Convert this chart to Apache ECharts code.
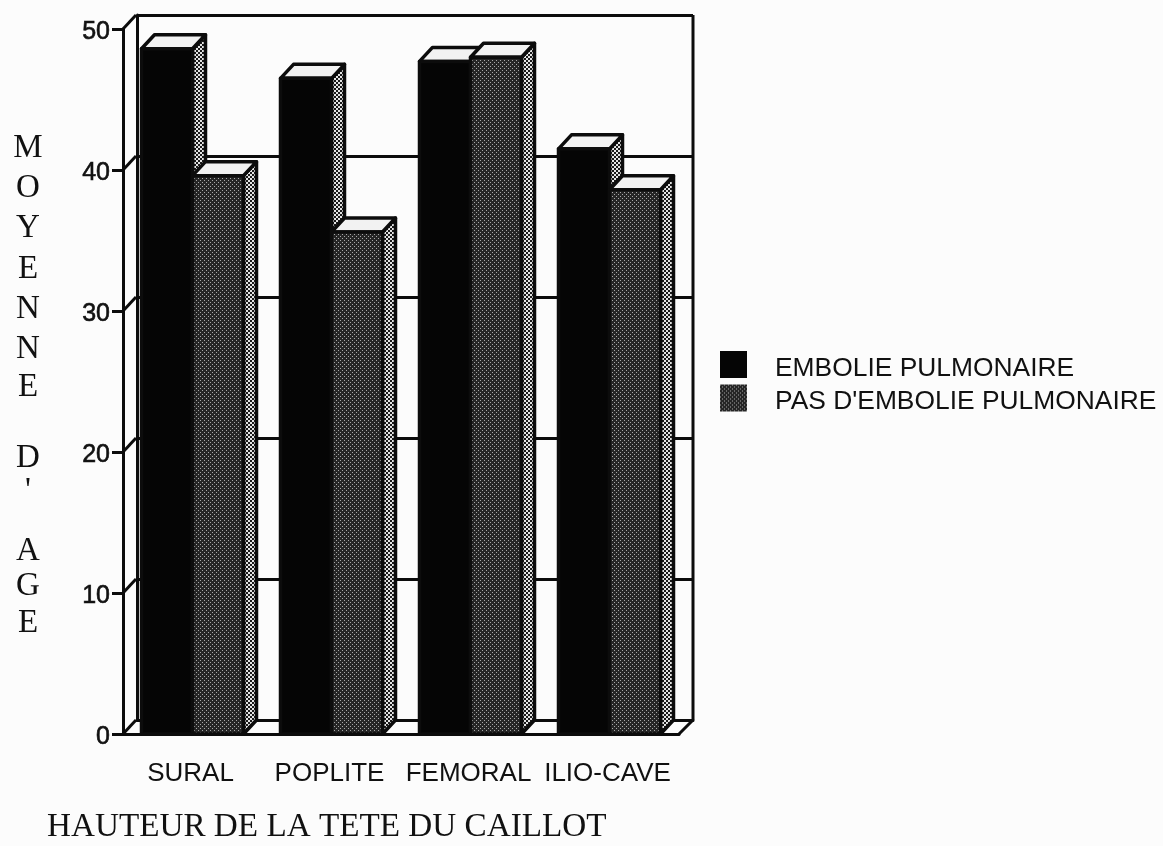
<!DOCTYPE html>
<html>
<head>
<meta charset="utf-8">
<style>html,body{margin:0;padding:0;background:#fcfcfc}#c{width:1163px;height:846px}</style>
<script src="https://cdn.jsdelivr.net/npm/echarts@6/dist/echarts.min.js"></script>
</head>
<body>
<div id="c"></div>
<script>
const categories = ['SURAL', 'POPLITE', 'FEMORAL', 'ILIO-CAVE'];
const seriesNames = ['EMBOLIE PULMONAIRE', "PAS D'EMBOLIE PULMONAIRE"];
const emboliePulmonaire = [48.6, 46.5, 47.7, 41.5];
const pasEmboliePulmonaire = [39.6, 35.6, 48.0, 38.6];
const yTicks = [0, 10, 20, 30, 40, 50];
const yTitle = ['M', 'O', 'Y', 'E', 'N', 'N', 'E', 'D', "'", 'A', 'G', 'E'];
const yTitleRows = [148, 188, 228, 269, 309, 349, 387, 458, 491, 551, 586, 623];
const xTitle = 'HAUTEUR DE LA TETE DU CAILLOT';

const DX = 13, DY = -14, INK = '#0c0c0c', BAR_W = 51;

function dither(bg, dot, size, r) {
  const cv = document.createElement('canvas');
  cv.width = cv.height = size;
  const g = cv.getContext('2d');
  g.fillStyle = bg; g.fillRect(0, 0, size, size);
  g.fillStyle = dot;
  g.fillRect(0, 0, r, r);
  g.fillRect(size / 2, size / 2, r, r);
  return { image: cv, repeat: 'repeat' };
}
const grayFront = dither('#262626', '#a8a8a8', 4, 1);
const sideFill = dither('#1a1a1a', '#e4e4e4', 4, 2);

function bar3d(side) {
  return function (params, api) {
    const cat = api.value(0), val = api.value(1);
    const c0 = api.coord([cat, 0]), c1 = api.coord([cat, val]);
    const x0 = side === 0 ? c0[0] - BAR_W : c0[0];
    const x1 = x0 + BAR_W, yb = c0[1], yt = c1[1];
    const ls = { stroke: INK, lineWidth: 3.5, lineJoin: 'round' };
    return {
      type: 'group', children: [
        { type: 'polygon', shape: { points: [[x1, yb], [x1 + DX, yb + DY], [x1 + DX, yt + DY], [x1, yt]] }, style: Object.assign({ fill: sideFill }, ls) },
        { type: 'polygon', shape: { points: [[x0, yt], [x0 + DX, yt + DY], [x1 + DX, yt + DY], [x1, yt]] }, style: Object.assign({ fill: '#f2f2f2' }, ls) },
        { type: 'rect', shape: { x: x0, y: yt, width: BAR_W, height: yb - yt }, style: Object.assign({ fill: side === 0 ? '#050505' : grayFront }, ls) }
      ]
    };
  };
}

function frame(params, api) {
  const band = api.size([1, 0])[0];
  const left = api.coord([0, 0])[0] - band / 2, right = api.coord([categories.length - 1, 0])[0] + band / 2;
  const v = api.value(0), y = api.coord([0, v])[1];
  const ls = { stroke: INK, lineWidth: 3 };
  const kids = [{ type: 'line', shape: { x1: left, y1: y, x2: left + DX, y2: y + DY }, style: ls }];
  if (v === 0) {
    const top = api.coord([0, yTicks[yTicks.length - 1]])[1];
    kids.push({ type: 'line', shape: { x1: right, y1: y, x2: right + DX + 1, y2: y + DY }, style: ls });
    kids.push({ type: 'line', shape: { x1: right + DX + 1, y1: y + DY, x2: right + DX + 1, y2: top + DY }, style: ls });
  }
  return { type: 'group', children: kids };
}

const font = { fontFamily: 'Liberation Sans', fontSize: 26, color: '#111' };
const yFont = { fontFamily: 'Liberation Sans', fontSize: 25, color: '#111', textBorderColor: '#111', textBorderWidth: 0.6 };

const chart = echarts.init(document.getElementById('c'), null, { renderer: 'canvas' });
chart.setOption({
  animation: false,
  backgroundColor: '#fcfcfc',
  grid: [
    { left: 123, top: 29, width: 556, height: 705 },
    { left: 137, top: 15, width: 556, height: 705 }
  ],
  title: {
    text: xTitle, left: 42, top: 806,
    textStyle: { fontFamily: 'Liberation Serif', fontSize: 33.2, fontWeight: 'normal', color: '#111' }
  },
  graphic: yTitle.map((ch, i) => ({
    type: 'text', x: 28, y: yTitleRows[i],
    style: { text: ch, font: '33px "Liberation Serif"', fill: '#111', textAlign: 'center', textVerticalAlign: 'middle' }
  })),
  legend: {
    orient: 'vertical', left: 715, top: 346, itemWidth: 27, itemHeight: 27, itemGap: 3,
    data: seriesNames.map(n => ({ name: n, icon: 'rect' })),
    formatter: n => '{a|' + n + '}',
    textStyle: {
      padding: [0, 0, 0, 23],
      rich: { a: { fontFamily: 'Liberation Sans', fontSize: 26.4, color: '#111', padding: [8, 0, 0, 0] } }
    }
  },
  xAxis: [
    {
      type: 'category', gridIndex: 0, data: categories,
      axisLine: { lineStyle: { color: INK, width: 3 } },
      axisTick: { alignWithLabel: true, length: 11, lineStyle: { color: INK, width: 2 } },
      axisLabel: Object.assign({ margin: 27, interval: 0, padding: [0, 4, 0, 0] }, font)
    },
    { type: 'category', gridIndex: 1, data: categories, axisLine: { lineStyle: { color: INK, width: 3 } }, axisTick: { show: false }, axisLabel: { show: false } }
  ],
  yAxis: [
    {
      type: 'value', gridIndex: 0, min: 0, max: 50, interval: 10,
      splitLine: { show: false },
      axisLine: { show: true, lineStyle: { color: INK, width: 3 } },
      axisTick: { show: true, length: 11, lineStyle: { color: INK, width: 3 } },
      axisLabel: {
        margin: 13,
        formatter: '{a|{value}}',
        rich: { a: Object.assign({ padding: [7, 0, 0, 0] }, yFont) }
      }
    },
    {
      type: 'value', gridIndex: 1, min: 0, max: 50, interval: 10,
      splitLine: { show: true, lineStyle: { color: INK, width: 3 } },
      axisLine: { show: true, lineStyle: { color: INK, width: 3 } },
      axisTick: { show: false }, axisLabel: { show: false }
    }
  ],
  series: [
    {
      type: 'custom', name: 'frame', xAxisIndex: 0, yAxisIndex: 0, renderItem: frame, silent: true, z: 1,
      encode: { x: -1, y: 0 }, data: yTicks.map(v => [v])
    },
    {
      type: 'custom', name: seriesNames[0], xAxisIndex: 0, yAxisIndex: 0, renderItem: bar3d(0), z: 2,
      itemStyle: { color: '#050505' }, encode: { x: 0, y: 1 },
      data: emboliePulmonaire.map((v, i) => [i, v])
    },
    {
      type: 'custom', name: seriesNames[1], xAxisIndex: 0, yAxisIndex: 0, renderItem: bar3d(1), z: 3,
      itemStyle: { color: grayFront }, encode: { x: 0, y: 1 },
      data: pasEmboliePulmonaire.map((v, i) => [i, v])
    }
  ]
});
</script>
</body>
</html>
